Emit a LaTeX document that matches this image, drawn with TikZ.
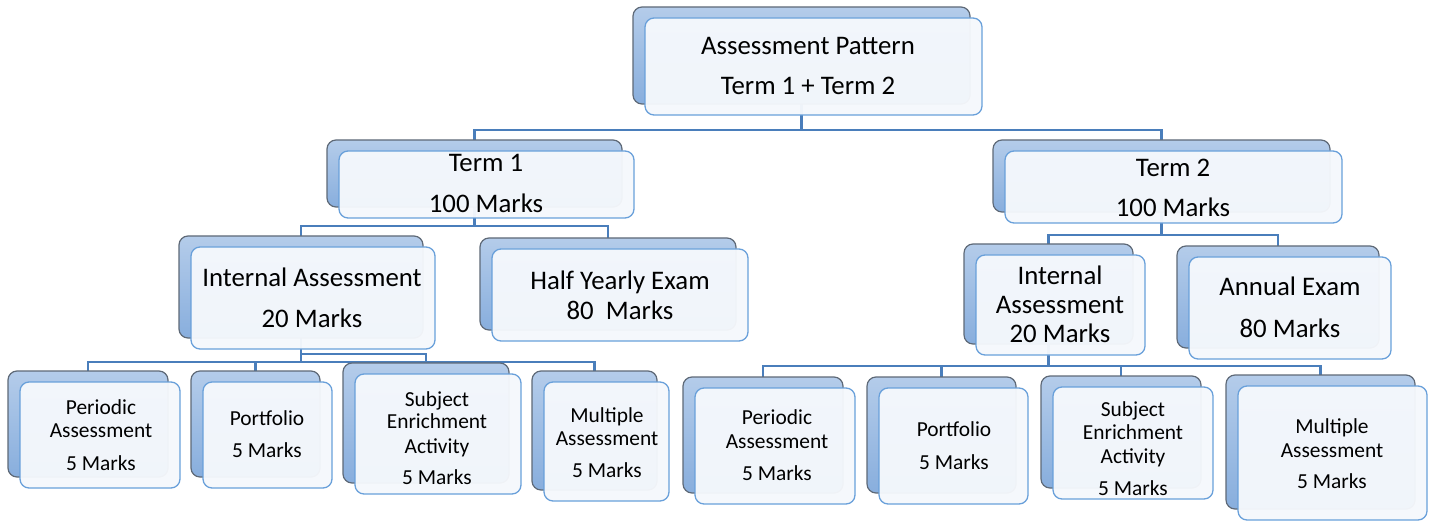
\documentclass[tikz,border=0pt]{standalone}
\usepackage{fontspec}
\setmainfont{Carlito}
\usetikzlibrary{calc}
\definecolor{backtop}{HTML}{B4CCEA}
\definecolor{backbot}{HTML}{88AEDD}
\definecolor{backline}{HTML}{5E6977}
\definecolor{frontfill}{HTML}{F5F8FC}
\definecolor{frontline}{HTML}{69A0DA}
\definecolor{connc}{HTML}{4A7EBB}
\pgfdeclarelayer{bg}
\pgfsetlayers{bg,main}
\newcommand\mkcard[5]{%
  \node[backbox, minimum width={(#4-#2)*1pt}, minimum height={(#5-#3)*1pt}] (#1b) at ({(#2+#4)/2},{(#3+#5)/2}) {};
  \node[frontbox, minimum width={(#4-#2)*1pt}, minimum height={(#5-#3)*1pt}] (#1) at ({(#2+#4)/2+12},{(#3+#5)/2+11}) {};
}
\tikzset{
  backbox/.style={draw=backline, line width=1.2pt, rounded corners=9pt, top color=backtop, bottom color=backbot, inner sep=0pt, outer sep=0pt},
  frontbox/.style={draw=frontline, line width=1.3pt, rounded corners=9pt, fill=frontfill, fill opacity=0.96, inner sep=0pt, outer sep=0pt},
  big/.style={anchor=base, inner sep=0pt, font=\fontsize{26.8}{30}\selectfont},
  small/.style={anchor=base, inner sep=0pt, font=\fontsize{21.4}{25}\selectfont},
  conn/.style={draw=connc, line width=2.8pt}
}
\begin{document}
\begin{tikzpicture}[x=1pt,y=-1pt]
\useasboundingbox (0,0) rectangle (1431,521);
% cards
\mkcard{root}{633}{7}{970}{104}
\mkcard{ta}{327}{140}{622}{207}
\mkcard{tb}{993}{140}{1330}{212}
\mkcard{iaa}{179}{236}{423}{338}
\mkcard{hy}{480}{238}{736}{330}
\mkcard{iab}{964}{244}{1133}{344}
\mkcard{ae}{1177}{246}{1379}{348}
\mkcard{pa}{8}{371}{168}{477}
\mkcard{pfa}{191}{371}{320}{477}
\mkcard{sea}{343}{363}{509}{483}
\mkcard{ma}{532}{371}{657}{490}
\mkcard{pb}{683}{377}{843}{493}
\mkcard{pfb}{867}{377}{1016}{493}
\mkcard{seb}{1041}{376}{1201}{488}
\mkcard{mb}{1226}{375}{1415}{509}
% texts
\node[big] (root1) at (808,55) {Assessment Pattern};
\node[big] (root2) at (808,95) {Term 1 + Term 2};
\node[big] (ta1) at (486,172) {Term 1};
\node[big] (ta2) at (486,213) {100 Marks};
\node[big] (tb1) at (1173,177) {Term 2};
\node[big] (tb2) at (1173,217) {100 Marks};
\node[big] (iaa1) at (312,287) {Internal Assessment};
\node[big] (iaa2) at (312,327) {20 Marks};
\node[big] (hy1) at (620,289) {Half Yearly Exam};
\node[big] (hy2) at (620,319) {80\ \ Marks};
\node[big] (iab1) at (1060,284) {Internal};
\node[big] (iab2) at (1060,313) {Assessment};
\node[big] (iab3) at (1060,342) {20 Marks};
\node[big] (ae1) at (1290,295) {Annual Exam};
\node[big] (ae2) at (1290,337) {80 Marks};
\node[small] (pa1) at (101,414) {Periodic};
\node[small] (pa2) at (101,437) {Assessment};
\node[small] (pa3) at (101,470) {5 Marks};
\node[small] (pfa1) at (267,425) {Portfolio};
\node[small] (pfa2) at (267,457) {5 Marks};
\node[small] (sea1) at (437,406) {Subject};
\node[small] (sea2) at (437,428) {Enrichment};
\node[small] (sea3) at (437,453) {Activity};
\node[small] (sea4) at (437,484) {5 Marks};
\node[small] (ma1) at (607,422) {Multiple};
\node[small] (ma2) at (607,445) {Assessment};
\node[small] (ma3) at (607,477) {5 Marks};
\node[small] (pb1) at (777,424) {Periodic};
\node[small] (pb2) at (777,448) {Assessment};
\node[small] (pb3) at (777,480) {5 Marks};
\node[small] (pfb1) at (954,436) {Portfolio};
\node[small] (pfb2) at (954,469) {5 Marks};
\node[small] (seb1) at (1133,416) {Subject};
\node[small] (seb2) at (1133,439) {Enrichment};
\node[small] (seb3) at (1133,463) {Activity};
\node[small] (seb4) at (1133,495) {5 Marks};
\node[small] (mb1) at (1332,433) {Multiple};
\node[small] (mb2) at (1332,457) {Assessment};
\node[small] (mb3) at (1332,488) {5 Marks};
% connectors
\coordinate (rootbar) at (0,130);
\coordinate (tabar) at (0,226);
\coordinate (tbbar) at (0,235);
\coordinate (iaabar) at (0,362);
\coordinate (iaabarb) at (0,354);
\coordinate (iabbar) at (0,366);
\begin{pgfonlayer}{bg}
\draw[conn] (rootb.south) -- (rootb.south |- rootbar) -| (tab.north);
\draw[conn] (rootb.south |- rootbar) -| (tbb.north);
\draw[conn] (tab.south) -- (tab.south |- tabar) -| (iaab.north);
\draw[conn] (tab.south |- tabar) -| (hyb.north);
\draw[conn] (tbb.south) -- (tbb.south |- tbbar) -| (iabb.north);
\draw[conn] (tbb.south |- tbbar) -| (aeb.north);
\draw[conn] (iaab.south) -- (iaab.south |- iaabar) -| (pab.north);
\draw[conn] (iaab.south |- iaabar) -| (pfab.north);
\draw[conn] (iaab.south |- iaabar) -| (mab.north);
\draw[conn] (iaab.south |- iaabarb) -| (seab.north);
\draw[conn] (iabb.south) -- (iabb.south |- iabbar) -| (pbb.north);
\draw[conn] (iabb.south |- iabbar) -| (pfbb.north);
\draw[conn] (iabb.south |- iabbar) -| (sebb.north);
\draw[conn] (iabb.south |- iabbar) -| (mbb.north);
\end{pgfonlayer}
\end{tikzpicture}
\end{document}
